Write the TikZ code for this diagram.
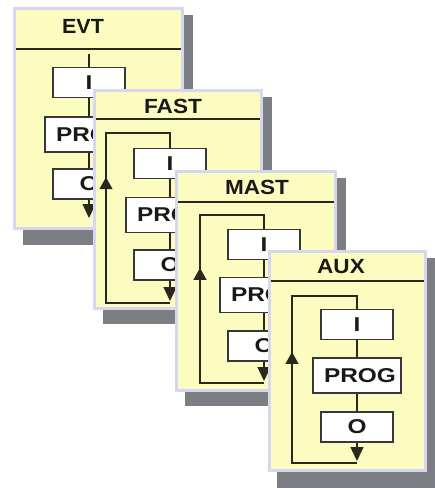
\documentclass[tikz,border=0pt]{standalone}
\usepackage{fontspec}
\setmainfont{Liberation Sans}
\usepackage{graphicx}
\usetikzlibrary{arrows.meta,decorations.markings}
\definecolor{panelfill}{RGB}{253,252,192}
\definecolor{panelborder}{RGB}{214,214,240}
\definecolor{shadowgray}{RGB}{125,125,132}
\definecolor{linedark}{RGB}{40,40,28}
\definecolor{boxborder}{RGB}{55,55,55}
\definecolor{textdark}{RGB}{25,25,25}
\newcommand\wtxt[2]{\scalebox{#1}[1]{#2}}
\newcommand\progtxt{\hspace*{6pt}\wtxt{1.22}{PROG}}
\tikzset{
  shadowrect/.style={fill=shadowgray, draw=none},
  panelrect/.style={fill=panelfill, draw=panelborder, line width=3pt},
  headline/.style={draw=linedark, line width=1.1pt},
  titletext/.style={font=\fontsize{20.5}{20.5}\selectfont\bfseries, text=textdark, inner sep=0pt},
  blockbox/.style={draw=boxborder, fill=white, line width=1.2pt, inner sep=0pt,
    font=\fontsize{20}{20}\selectfont\bfseries, text=textdark},
  smallbox/.style={blockbox, minimum width=72pt, minimum height=30pt},
  progbox/.style={blockbox, minimum width=88pt, minimum height=35pt},
  wire/.style={color=linedark, line width=1.3pt},
  downarrow/.style={wire, -{Triangle[length=14pt,width=13pt]}},
  uparrow/.style={wire, postaction={decorate},
    decoration={markings, mark=at position #1 with {\arrow{Triangle[length=12pt,width=13pt]}}}},
}
\begin{document}
\begin{tikzpicture}[x=1pt,y=-1pt]
\useasboundingbox (0,0) rectangle (435,488);

% ---------------- EVT ----------------
\fill[shadowrect] (23,15) rectangle (193,245);
\draw[panelrect] (14.5,8.5) rectangle (182.5,228.5);
\draw[headline] (16,49) -- (181,49);
\node[titletext] (evt-t) at (83,26) {\wtxt{1.05}{EVT}};
\node[smallbox] (evt-i) at (89,82.5) {\wtxt{1.22}{I}};
\node[progbox]  (evt-p) at (89,134.5) {\progtxt};
\node[smallbox] (evt-o) at (89,184) {\wtxt{1.22}{O}};
\coordinate (evt-top) at (89,54);
\coordinate (evt-end) at (89,218);
\draw[wire] (evt-top) -- (evt-i);
\draw[wire] (evt-i) -- (evt-p);
\draw[wire] (evt-p) -- (evt-o);
\draw[downarrow] (evt-o) -- (evt-end);

% ---------------- FAST ----------------
\fill[shadowrect] (103,97) rectangle (272,324);
\draw[panelrect] (94.5,90.5) rectangle (261.5,308.5);
\draw[headline] (96,119) -- (260,119);
\node[titletext] (fast-t) at (173,106) {\wtxt{1.1}{FAST}};
\node[smallbox] (fast-i) at (170,163.5) {\wtxt{1.22}{I}};
\node[progbox]  (fast-p) at (170,215) {\progtxt};
\node[smallbox] (fast-o) at (170,265) {\wtxt{1.22}{O}};
\coordinate (fast-tip) at (170,301);
\coordinate (fast-bc) at (170,303);
\coordinate (fast-bl) at (106,303);
\coordinate (fast-tl) at (106,133);
\coordinate (fast-tc) at (170,133);
\draw[wire] (fast-i) -- (fast-p);
\draw[wire] (fast-p) -- (fast-o);
\draw[downarrow] (fast-o) -- (fast-tip);
\draw[wire] (fast-bc) -- (fast-bl) -- (fast-tl) -- (fast-tc) -- (fast-i);
\draw[uparrow=0.74] (fast-bl) -- (fast-tl);

% ---------------- MAST ----------------
\fill[shadowrect] (185,178) rectangle (346,406);
\draw[panelrect] (176.5,171.5) rectangle (335.5,390.5);
\draw[headline] (178,202) -- (334,202);
\node[titletext] (mast-t) at (257,187) {\wtxt{1.1}{MAST}};
\node[smallbox] (mast-i) at (264,244.5) {\wtxt{1.22}{I}};
\node[progbox]  (mast-p) at (264,295) {\progtxt};
\node[smallbox] (mast-o) at (264,346) {\wtxt{1.22}{O}};
\coordinate (mast-tip) at (264,381);
\coordinate (mast-bc) at (264,383);
\coordinate (mast-bl) at (200,383);
\coordinate (mast-tl) at (200,215);
\coordinate (mast-tc) at (264,215);
\draw[wire] (mast-i) -- (mast-p);
\draw[wire] (mast-p) -- (mast-o);
\draw[downarrow] (mast-o) -- (mast-tip);
\draw[wire] (mast-bc) -- (mast-bl) -- (mast-tl) -- (mast-tc) -- (mast-i);
\draw[uparrow=0.685] (mast-bl) -- (mast-tl);

% ---------------- AUX ----------------
\fill[shadowrect] (277,258) rectangle (436,489);
\draw[panelrect] (269.5,251.5) rectangle (425.5,470.5);
\draw[headline] (271,281) -- (424,281);
\node[titletext] (aux-t) at (341,267) {\wtxt{1.1}{AUX}};
\node[smallbox] (aux-i) at (357,324.5) {\wtxt{1.22}{I}};
\node[progbox]  (aux-p) at (357,375.5) {\progtxt};
\node[smallbox] (aux-o) at (357,427) {\wtxt{1.22}{O}};
\coordinate (aux-tip) at (357,461);
\coordinate (aux-bc) at (357,463);
\coordinate (aux-bl) at (292,463);
\coordinate (aux-tl) at (292,296);
\coordinate (aux-tc) at (357,296);
\draw[wire] (aux-i) -- (aux-p);
\draw[wire] (aux-p) -- (aux-o);
\draw[downarrow] (aux-o) -- (aux-tip);
\draw[wire] (aux-bc) -- (aux-bl) -- (aux-tl) -- (aux-tc) -- (aux-i);
\draw[uparrow=0.665] (aux-bl) -- (aux-tl);
\end{tikzpicture}
\end{document}
